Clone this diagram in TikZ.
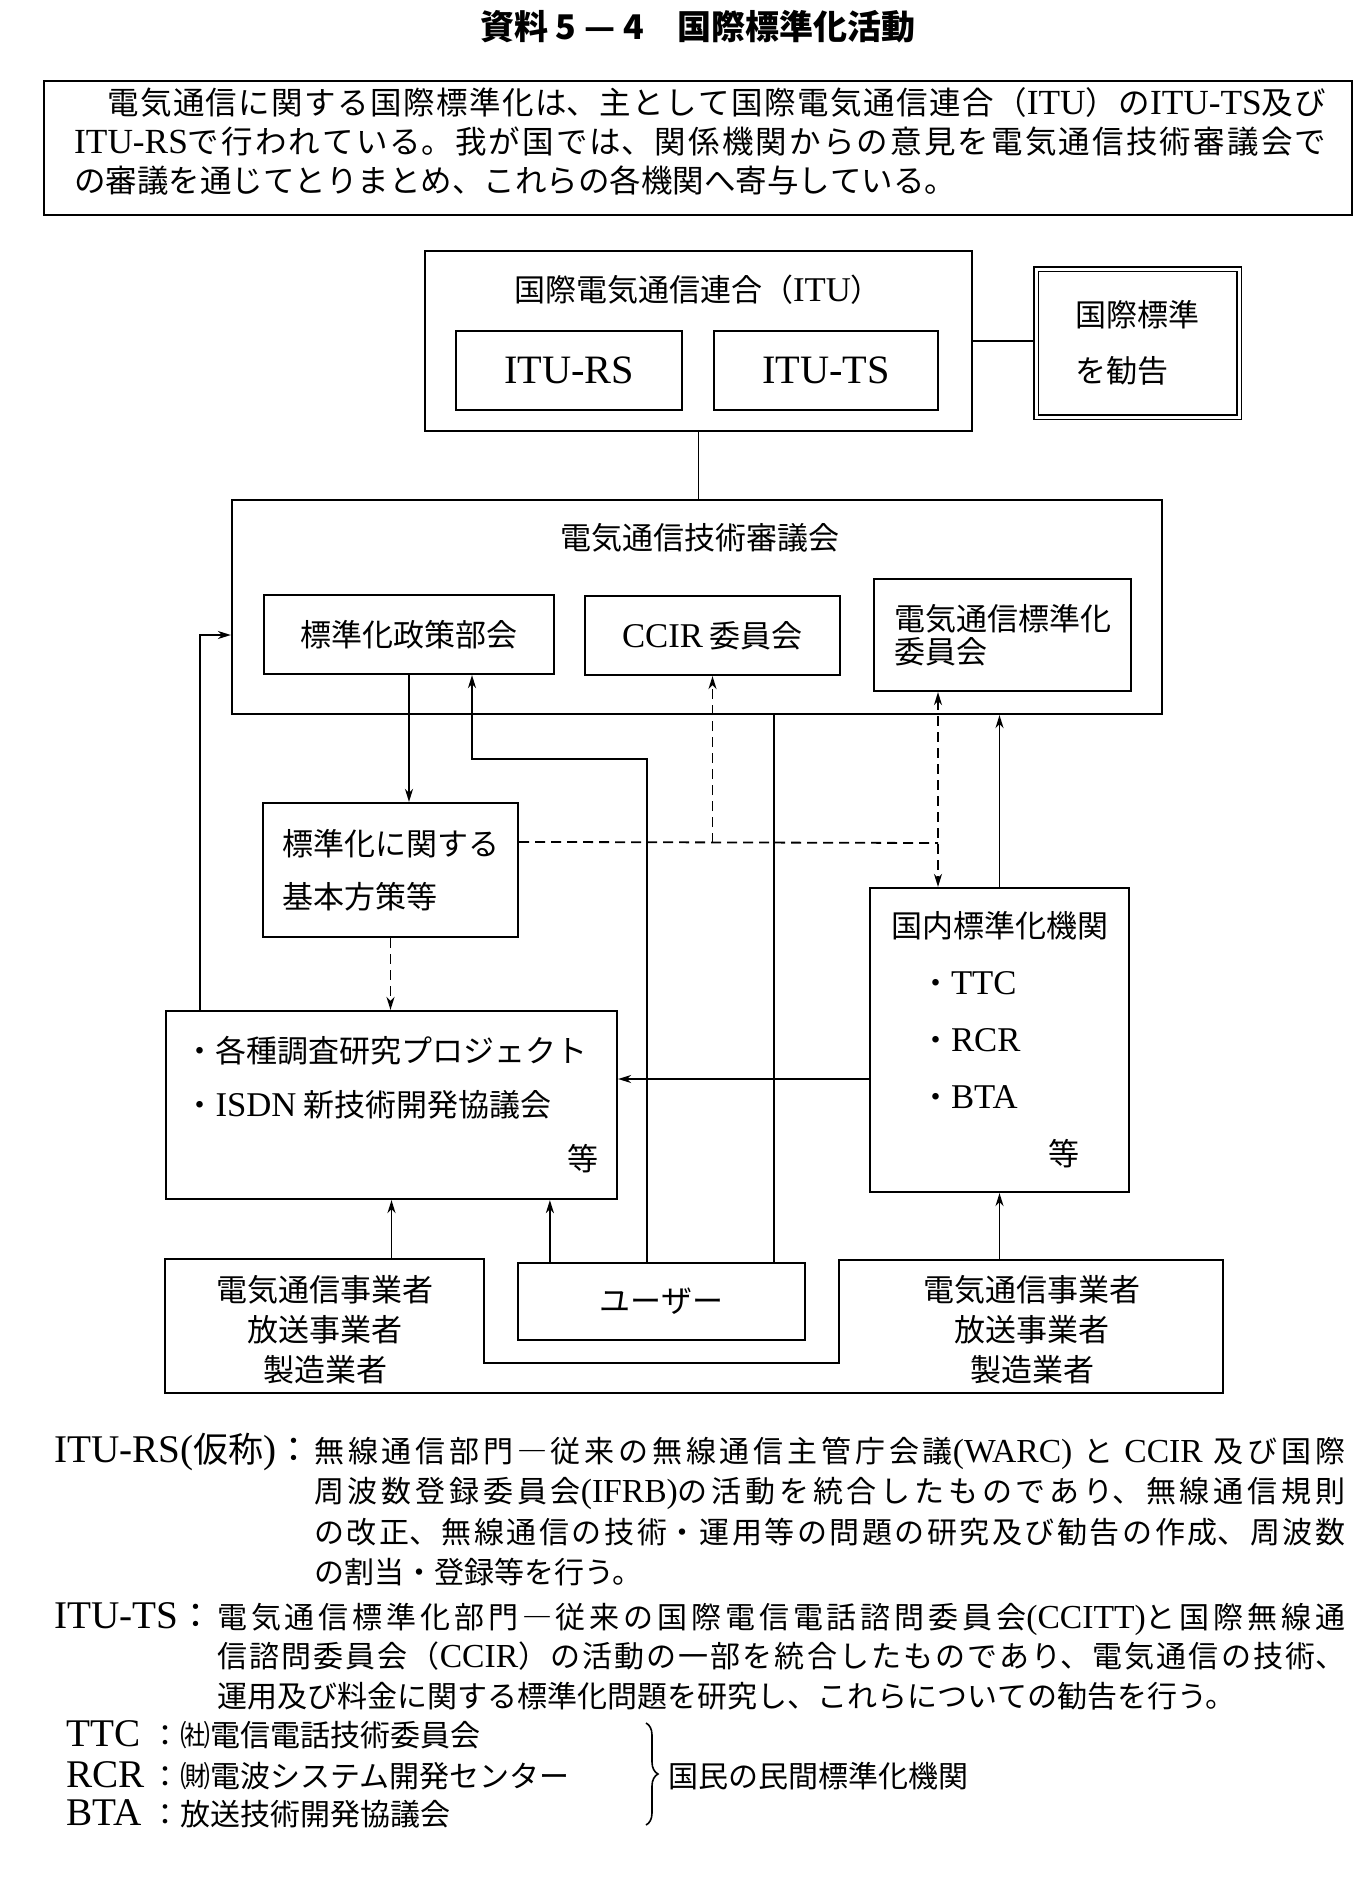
\documentclass[tikz,border=0pt]{standalone}
\usepackage{fontspec}
\setmainfont{Noto Sans CJK JP}
\newfontfamily\latinfont{Liberation Serif}[Scale=1.12]
\newcommand\latn[1]{{\latinfont #1}}
\newcommand\jsize[2]{\fontsize{#1}{#2}\selectfont}
\XeTeXlinebreaklocale "ja"
\XeTeXlinebreakskip=0pt plus 3pt
\usetikzlibrary{arrows.meta, positioning, calc, decorations.pathreplacing}

\begin{document}
\begin{tikzpicture}[x=1pt, y=-1pt,
  every node/.style={font=\jsize{31}{40}},
  box/.style={draw, line width=2.2pt, inner sep=0pt, align=left},
  link/.style={line width=1.8pt},
  dlink/.style={line width=1.8pt, dash pattern=on 10pt off 6pt},
  arr/.style={-{Stealth[length=13pt, width=8pt, inset=4pt]}},
  darr/.style={{Stealth[length=13pt, width=8pt, inset=4pt]}-{Stealth[length=13pt, width=8pt, inset=4pt]}},
  note/.style={inner sep=0pt, anchor=base west, font=\jsize{30}{40.5}},
  notelab/.style={inner sep=0pt, anchor=base west, font=\jsize{35}{40}}
]
  \useasboundingbox (0,0) rectangle (1369,1877);

  % Title and lead text
  \node[font=\bfseries\jsize{34}{40}] (title) at (698,27) {資料 5 — 4　国際標準化活動};
  \node[box, minimum width=1308pt, minimum height=134pt] (lead) at (698,148) {};
  \node[inner sep=0pt, anchor=base west, text width=1252pt, align=justify,
        font=\jsize{31.5}{39}] (leadtext) at (74,114)
    {　電気通信に関する国際標準化は、主として国際電気通信連合（\latn{ITU}）の\latn{ITU-TS}及び\linebreak
     \latn{ITU-RS}で行われている。我が国では、関係機関からの意見を電気通信技術審議会で\linebreak
     の審議を通じてとりまとめ、これらの各機関へ寄与している。};

  % ITU
  \node[box, minimum width=547pt, minimum height=180pt] (itu) at (698.5,341) {};
  \node (itutitle) at (698,290) {国際電気通信連合（\latn{ITU}）};
  \node[box, minimum width=226pt, minimum height=79pt, font=\jsize{36}{40}] (rs) at (569,370.5) {\latn{ITU-RS}};
  \node[box, minimum width=224pt, minimum height=79pt, font=\jsize{36}{40}] (ts) at (826,370.5) {\latn{ITU-TS}};
  \node[box, line width=1.5pt, double, double distance=3pt, minimum width=203pt, minimum height=148pt,
        font=\jsize{31}{56}] (rec) at (1137.5,343) {国際標準\\を勧告};

  % Telecommunications council
  \node[box, minimum width=930pt, minimum height=214pt] (council) at (697,607) {};
  \node (counciltitle) at (700,538) {電気通信技術審議会};
  \node[box, minimum width=290pt, minimum height=79pt] (policy) at (409,634.5) {標準化政策部会};
  \node[box, minimum width=255pt, minimum height=79pt] (ccir) at (712.5,635.5) {\latn{CCIR} 委員会};
  \node[box, minimum width=257pt, minimum height=112pt, font=\jsize{31}{33}] (tsc) at (1002.5,635) {電気通信標準化\\委員会};

  % Policies, projects, domestic bodies
  \node[box, minimum width=255pt, minimum height=134pt, font=\jsize{31}{53}] (basic) at (390.5,870) {標準化に関する\\基本方策等};
  \node[box, minimum width=451pt, minimum height=188pt, font=\jsize{31}{54}] (proj) at (391.5,1105)
    {・各種調査研究プロジェクト\\・\latn{ISDN} 新技術開発協議会\\\hspace*{383pt}等};
  \node[box, minimum width=259pt, minimum height=304pt, font=\jsize{31}{57}] (dom) at (999.5,1040)
    {国内標準化機関\\\hspace*{29pt}・\latn{TTC}\\\hspace*{29pt}・\latn{RCR}\\\hspace*{29pt}・\latn{BTA}\\\hspace*{157pt}等};

  % Operators, users, manufacturers
  \node[box, minimum width=287pt, minimum height=77pt] (users) at (661.5,1301.5) {ユーザー};
  \draw[line width=2.2pt] (165,1259) -- (484,1259) -- (484,1363) -- (839,1363) -- (839,1260)
    -- (1223,1260) -- (1223,1393) -- (165,1393) -- cycle;
  \node[align=center] (opL) at (325,1330) {電気通信事業者\\放送事業者\\製造業者};
  \node[align=center] (opR) at (1032,1330) {電気通信事業者\\放送事業者\\製造業者};

  % Helper coordinates
  \coordinate (u1) at ([xshift=130pt]users.north west);
  \coordinate (u2) at ([xshift=257pt]users.north west);
  \coordinate (u3) at ([xshift=33pt]users.north west);
  \coordinate (ubend) at (472,759);
  \coordinate (dj) at (938,843);
  \coordinate (hrow) at (0,1079);
  \coordinate (lp) at (200,635);
  \coordinate (optop) at (0,1259);

  % Connectors
  \draw[link] (itu.east) -- (itu.east -| rec.west);
  \draw[link] (itu.south) -- (itu.south |- council.north);
  \draw[link, arr] (policy.south) -- (policy.south |- basic.north);
  \draw[link, arr] (u1) |- (ubend) -- (ubend |- policy.south);
  \draw[link] (u2) -- (u2 |- council.south);
  \draw[dlink] ([yshift=-40pt]basic.north east) -- (dj);
  \draw[dlink, arr] (ccir.south |- dj) -- (ccir.south);
  \draw[dlink, darr] (dj |- tsc.south) -- (dj |- dom.north);
  \draw[link, arr] (dom.north) -- (dom.north |- council.south);
  \draw[link, arr] (dom.west |- hrow) -- (proj.east |- hrow);
  \draw[dlink, arr] (basic.south) -- (basic.south |- proj.north);
  \draw[link, arr] (lp |- proj.north) |- (council.west |- lp);
  \draw[link, arr] (proj.south |- optop) -- (proj.south);
  \draw[link, arr] (u3) -- (u3 |- proj.south);
  \draw[link, arr] (dom.south |- optop) -- (dom.south);

  % Notes
  \node[notelab] (rslab) at (54,1462) {\latn{ITU-RS(}仮称\latn{)}：};
  \node[note, text width=1031pt, align=justify] (rsnote) at (314,1462)
    {無線通信部門―従来の無線通信主管庁会議\latn{(WARC)} と \latn{CCIR} 及び国際\linebreak
     周波数登録委員会\latn{(IFRB)}の活動を統合したものであり、無線通信規則\linebreak
     の改正、無線通信の技術・運用等の問題の研究及び勧告の作成、周波数\linebreak
     の割当・登録等を行う。};
  \node[notelab] (tslab) at (54,1628) {\latn{ITU-TS}：};
  \node[note, text width=1128pt, align=justify, font=\jsize{30}{39.5}] (tsnote) at (217,1628)
    {電気通信標準化部門―従来の国際電信電話諮問委員会\latn{(CCITT)}と国際無線通\linebreak
     信諮問委員会（\latn{CCIR}）の活動の一部を統合したものであり、電気通信の技術、\linebreak
     運用及び料金に関する標準化問題を研究し、これらについての勧告を行う。};
  \node[notelab] (ttclab) at (66,1746) {\latn{TTC}};
  \node[note] (ttc) at (150,1746) {：㈳電信電話技術委員会};
  \node[notelab] (rcrlab) at (66,1787) {\latn{RCR}};
  \node[note] (rcr) at (150,1787) {：㈶電波システム開発センター};
  \node[notelab] (btalab) at (66,1825) {\latn{BTA}};
  \node[note] (bta) at (150,1825) {：放送技術開発協議会};
  \draw[line width=1.6pt, decorate, decoration={brace, amplitude=12pt}] (646,1723) -- (646,1825);
  \node[note] (private) at (668,1787) {国民の民間標準化機関};
\end{tikzpicture}
\end{document}
